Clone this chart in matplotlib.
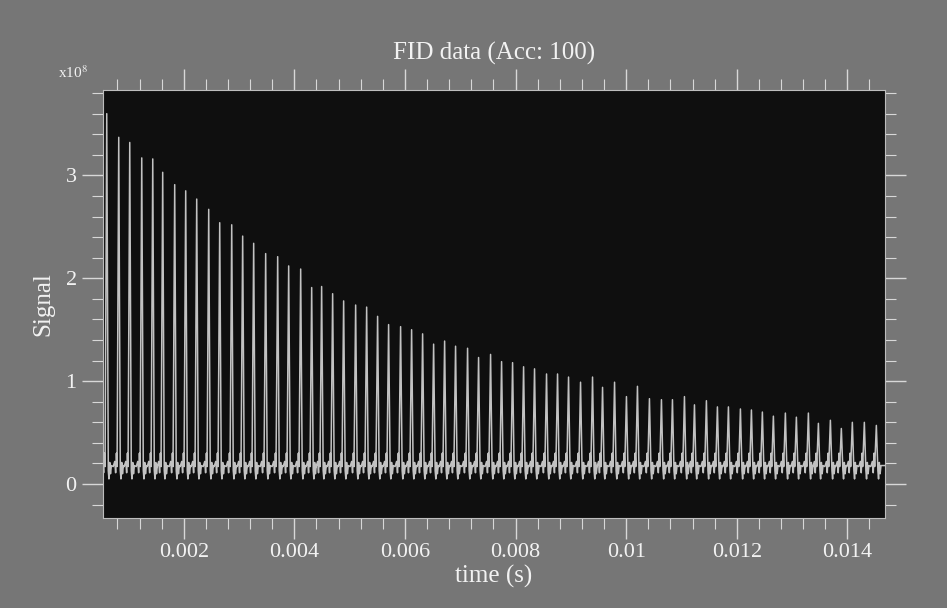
import numpy as np
import matplotlib
matplotlib.use("Agg")
import matplotlib.pyplot as plt
from matplotlib.ticker import MultipleLocator, FuncFormatter

# ==========================================
# data (signal in units of 1e8)
# ==========================================
echo_t = [0.000607, 0.000824, 0.001023, 0.001240, 0.001439, 0.001619, 0.001836,
          0.002035, 0.002234, 0.002451, 0.002650, 0.002867, 0.003065, 0.003264,
          0.003481, 0.003698, 0.003897, 0.004114, 0.004313, 0.004493, 0.004692,
          0.004891, 0.005108, 0.005307, 0.005505, 0.005704, 0.005921, 0.006120,
          0.006319, 0.006518, 0.006717, 0.006915, 0.007132, 0.007331, 0.007548,
          0.007747, 0.007946, 0.008145, 0.008343, 0.008560, 0.008759, 0.008958,
          0.009175, 0.009392, 0.009573, 0.009790, 0.010005, 0.010204, 0.010421,
          0.010638, 0.010837, 0.011054, 0.011235, 0.011451, 0.011650, 0.011849,
          0.012066, 0.012265, 0.012463, 0.012662, 0.012879, 0.013078, 0.013295,
          0.013476, 0.013693, 0.013891, 0.014090, 0.014307, 0.014524]

echo_peak = [3.60, 3.37, 3.32, 3.17, 3.16, 3.03, 2.91, 2.85, 2.77, 2.67, 2.54,
             2.52, 2.41, 2.34, 2.24, 2.21, 2.12, 2.09, 1.91, 1.92, 1.85, 1.78,
             1.74, 1.72, 1.63, 1.55, 1.53, 1.50, 1.46, 1.36, 1.39, 1.34, 1.32,
             1.23, 1.26, 1.19, 1.18, 1.14, 1.12, 1.07, 1.07, 1.04, 0.99, 1.04,
             0.94, 0.99, 0.85, 0.95, 0.83, 0.82, 0.82, 0.85, 0.77, 0.81, 0.75,
             0.75, 0.73, 0.72, 0.70, 0.66, 0.69, 0.65, 0.69, 0.59, 0.62, 0.54,
             0.60, 0.60, 0.57]

# typical shape of one echo around its peak (time offset, level); None = peak
shape_dt = [-0.000100, -0.000072, -0.000056, -0.000042, -0.000030, 0.0,
            0.000028, 0.000040, 0.000054, 0.000068, 0.000084]
shape_val = [0.17, 0.22, 0.11, 0.30, 0.17, None, 0.13, 0.05, 0.21, 0.10, 0.18]

x_left, x_right = 0.00054, 0.01468
y_bottom, y_top = -0.33, 3.83

# build the trace
t_trace = [x_left]
s_trace = [0.20]
for tc, pk in zip(echo_t, echo_peak):
    for dt, v in zip(shape_dt, shape_val):
        t_trace.append(tc + dt)
        s_trace.append(pk if v is None else v)
t_trace.append(x_right)
s_trace.append(0.18)

# ==========================================
# plot
# ==========================================
plt.rcParams['font.family'] = ['Liberation Serif', 'DejaVu Serif']
plt.rcParams['mathtext.fontset'] = 'stix'
txt = '#f2f2f2'

fig = plt.figure(figsize=(9.47, 6.08), dpi=100)
fig.patch.set_facecolor('#767676')
ax = fig.add_axes([0.1088, 0.148, 0.8257, 0.704])
ax.set_facecolor('#0f0f0f')

ax.plot(t_trace, s_trace, color='#c2c2c2', linewidth=1.1)

ax.set_xlim(x_left, x_right)
ax.set_ylim(y_bottom, y_top)

ax.xaxis.set_major_locator(MultipleLocator(0.002))
ax.xaxis.set_minor_locator(MultipleLocator(0.0004))
ax.yaxis.set_major_locator(MultipleLocator(1))
ax.yaxis.set_minor_locator(MultipleLocator(0.2))
ax.xaxis.set_major_formatter(FuncFormatter(lambda v, p: '%g' % round(v, 6)))
ax.yaxis.set_major_formatter(FuncFormatter(lambda v, p: '%d' % round(v)))

ax.tick_params(which='both', direction='out', top=True, right=True,
               colors='#d8d8d8', labelcolor=txt, labelsize=16)
ax.tick_params(which='major', length=15, width=1.0)
ax.tick_params(which='minor', length=8, width=0.8)
ax.tick_params(axis='y', pad=4)
ax.tick_params(axis='x', pad=3)

for sp in ax.spines.values():
    sp.set_color('#bdbdbd')
    sp.set_linewidth(0.8)

ax.set_title('FID data (Acc: 100)', color=txt, fontsize=18, pad=22)
ax.set_xlabel('time (s)', color=txt, fontsize=18, labelpad=2)
ax.set_ylabel('Signal', color=txt, fontsize=18, labelpad=8)
ax.text(-0.038, 1.04, r'x10$^{8}$', transform=ax.transAxes, color=txt,
        fontsize=11, ha='center', va='center')

fig.savefig('out.png', dpi=100, facecolor=fig.get_facecolor())
